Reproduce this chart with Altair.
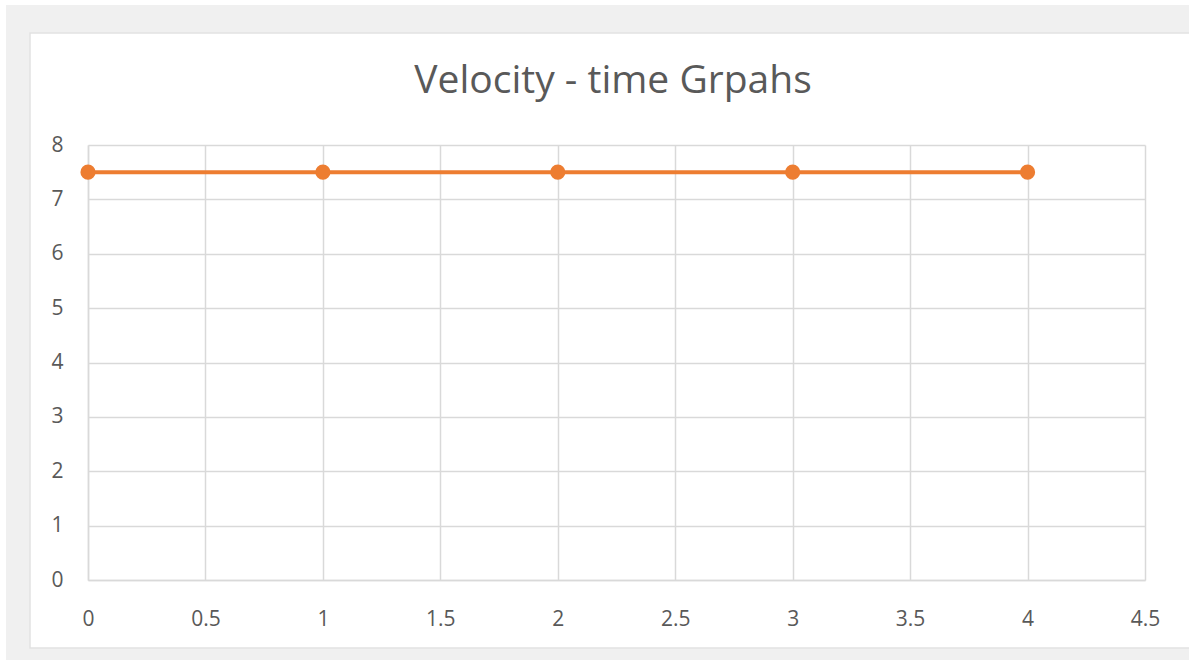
import altair as alt
import pandas as pd

# Velocity readings over time
time_s = [0, 1, 2, 3, 4]
velocity = [7.5, 7.5, 7.5, 7.5, 7.5]

x_ticks = [0, 0.5, 1, 1.5, 2, 2.5, 3, 3.5, 4, 4.5]
y_ticks = [0, 1, 2, 3, 4, 5, 6, 7, 8]
chart_title = ["Velocity - time Grpahs"]

df = pd.DataFrame({"t": time_s, "v": velocity})

W, H = 1057, 435
PAD_L, PAD_T, PAD_R, PAD_B = 88, 145, 44, 80

GRID = "#d9d9d9"
TEXT = "#595959"
ORANGE = "#ED7D31"
FRAME = "#f0f0f0"
FONT = "Open Sans"

one = pd.DataFrame({"k": [0]})


def strip(x0, x1, y0, y1, **kw):
    """A rectangle placed in page pixels (converted to view coordinates)."""
    return alt.Chart(one).mark_rect(clip=False, **kw).encode(
        x=alt.value(x0 - PAD_L), x2=alt.value(x1 - PAD_L),
        y=alt.value(y0 - PAD_T), y2=alt.value(y1 - PAD_T),
    )


# grey frame around the white card
frame = [
    strip(6, 30, 5, 660, color=FRAME),
    strip(6, 1189, 5, 33, color=FRAME),
    strip(6, 1189, 648, 660, color=FRAME),
    strip(30, 1200, 33, 648, fill=None, filled=False, stroke="#e2e2e2", strokeWidth=1.5),
]

title = alt.Chart(pd.DataFrame({"label": chart_title})).mark_text(
    font=FONT, fontSize=39, color=TEXT, align="center", baseline="alphabetic", clip=False
).encode(
    text="label:N",
    x=alt.value(613 - PAD_L),
    y=alt.value(93 - PAD_T),
)

axis_style = dict(
    title=None, ticks=False, format="~g",
    grid=True, gridColor=GRID, gridWidth=1.5,
    domainColor=GRID, domainWidth=1.5,
    labelColor=TEXT, labelFontSize=21, labelFont=FONT,
    labelFlush=False,
)

x_enc = alt.X(
    "t:Q",
    scale=alt.Scale(domain=[0, 4.5], nice=False, zero=False),
    axis=alt.Axis(values=x_ticks, labelPadding=28, **axis_style),
)
y_enc = alt.Y(
    "v:Q",
    scale=alt.Scale(domain=[0, 8], nice=False),
    axis=alt.Axis(values=y_ticks, labelPadding=25, **axis_style),
)

line = alt.Chart(df).mark_line(color=ORANGE, strokeWidth=4).encode(x=x_enc, y=y_enc)
points = alt.Chart(df).mark_circle(color=ORANGE, size=230, opacity=1).encode(x="t:Q", y="v:Q")

chart = alt.layer(*frame, title, line, points).properties(
    width=W,
    height=H,
    autosize=alt.AutoSizeParams(type="none"),
    padding={"left": PAD_L, "top": PAD_T, "right": PAD_R, "bottom": PAD_B},
    background="#ffffff",
).configure_view(stroke=None)

chart.save("out.html", embed_options={"renderer": "svg", "actions": False})
